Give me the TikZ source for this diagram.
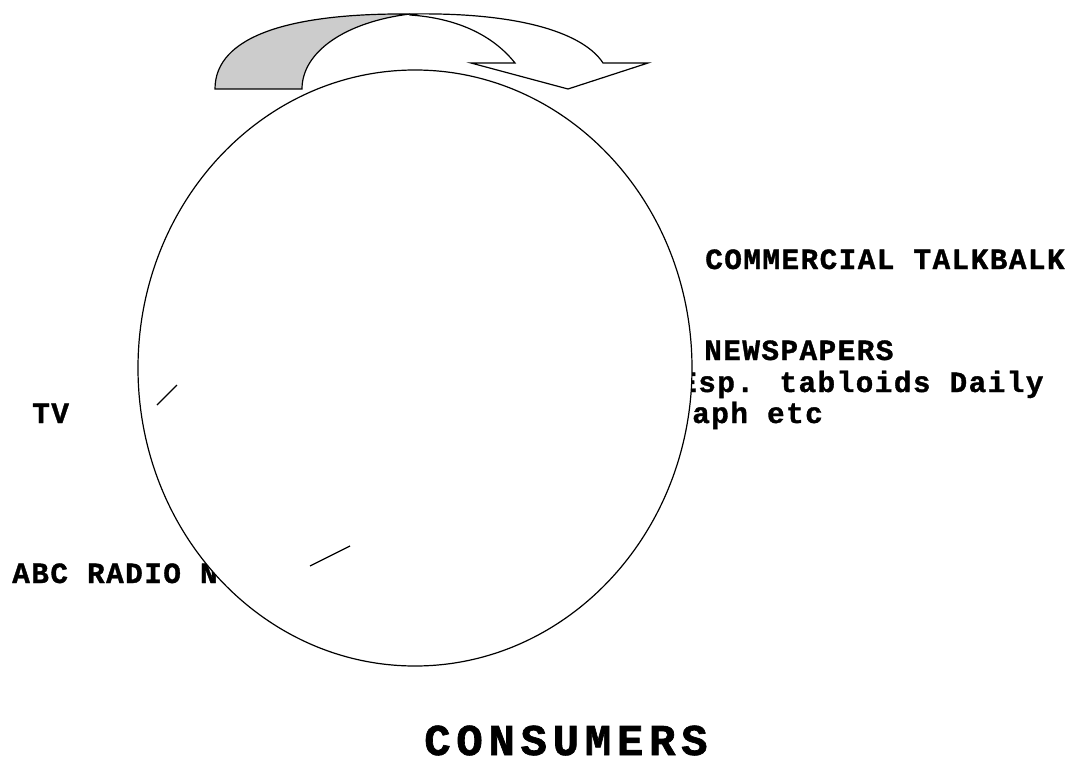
\documentclass[tikz,border=0pt]{standalone}
\usepackage{fontspec}
\usetikzlibrary{shapes.geometric}
\newfontfamily\outletfont[LetterSpace=5, BoldFeatures={FakeBold=1.2}]{Liberation Mono}
\newfontfamily\audiencefont[LetterSpace=13, BoldFeatures={FakeBold=1.5}]{Liberation Mono}
\begin{document}
\begin{tikzpicture}[
  x=0.75pt, y=-0.75pt,
  outlet/.style={anchor=base west, inner sep=0pt,
                 font=\outletfont\bfseries\fontsize{22}{26}\selectfont},
  audience/.style={anchor=base west, inner sep=0pt,
                   font=\audiencefont\bfseries\fontsize{33}{38}\selectfont},
  band/.style={draw, line width=0.9pt, line join=miter},
]
  \useasboundingbox (0,0) rectangle (1076,767);

  % media outlets (partly behind the circle)
  \node[outlet] (talkback) at (705,269) {COMMERCIAL TALKBALK};
  \node[outlet] (papers)   at (704,360) {NEWSPAPERS};
  \node[outlet] (tabloids) at (679,392) {Esp. tabloids Daily};
  \node[outlet] (telegraph) at (692,423) {aph etc};
  \node[outlet] (tv)       at (32,423) {TV};
  \node[outlet] (radio)    at (12,583) {ABC RADIO N};

  % the market circle
  \node[draw, fill=white, ellipse, line width=0.9pt, inner sep=0pt,
        minimum width=415.5pt, minimum height=447pt] (market) at (415,368) {};

  % stray strokes
  \coordinate (tvA) at (157,405);
  \coordinate (tvB) at (177,385);
  \coordinate (radioA) at (310,566);
  \coordinate (radioB) at (350,546);
  \draw[line width=0.9pt] (tvA) -- (tvB);
  \draw[line width=0.9pt] (radioA) -- (radioB);

  % curved arrow on top
  \draw[band, fill=white] (410,14) .. controls (525,12) and (585,35) .. (603,63)
    -- (648,63) -- (568,89) -- (471,63) -- (515,63)
    .. controls (492,34) and (455,18) .. (410,15) -- cycle;
  \draw[band, fill=black!20] (215,89) .. controls (215,36) and (290,13) .. (410,14)
    .. controls (345,22) and (302,52) .. (302,89) -- cycle;

  \node[audience] (consumers) at (424,755) {CONSUMERS};
\end{tikzpicture}
\end{document}
